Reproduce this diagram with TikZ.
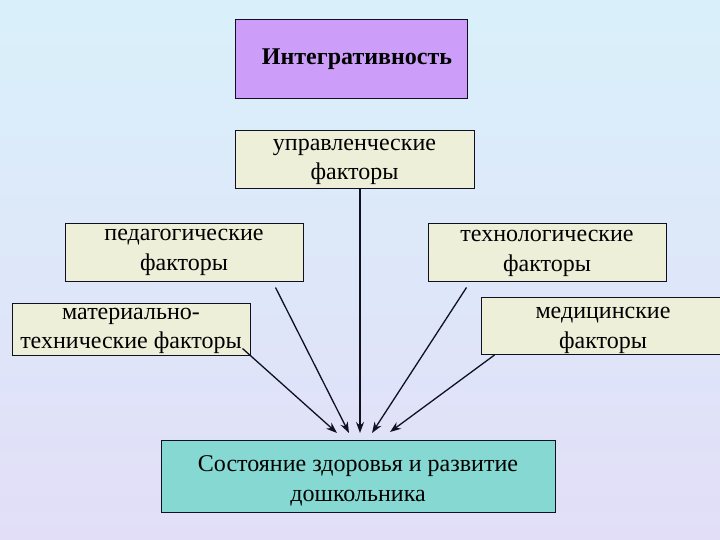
\documentclass[tikz,border=0pt]{standalone}
\usepackage{fontspec}
\setmainfont{Liberation Serif}
\usetikzlibrary{arrows.meta}
\definecolor{bgtop}{HTML}{D9F0FA}
\definecolor{bgbot}{HTML}{E2DEF8}
\definecolor{lilac}{HTML}{CC9EFA}
\definecolor{beige}{HTML}{EDEFD9}
\definecolor{teal}{HTML}{86D8D2}
\definecolor{edge}{HTML}{101020}
\tikzset{
  box/.style={draw=edge, line width=1pt, inner sep=0pt},
  factor/.style={box, fill=beige},
  txt/.style={align=center, inner sep=0pt, font=\fontsize{24}{29.5}\selectfont},
  link/.style={draw=edge, line width=1.3pt, -{Stealth[length=11pt,width=8pt]}}
}
\begin{document}
\begin{tikzpicture}[x=1pt,y=-1pt]
\useasboundingbox (0,0) rectangle (720,540);
\shade[top color=bgtop, bottom color=bgbot] (0,0) rectangle (720,540);
\begin{scope}
\clip (0,0) rectangle (720,540);
\node[box, fill=lilac, minimum width=232pt, minimum height=79pt] (integ) at (351,59.5) {};
\node[factor, minimum width=239pt, minimum height=58pt] (upr) at (354.5,160) {};
\node[factor, minimum width=238pt, minimum height=57pt] (ped) at (184,252.5) {};
\node[factor, minimum width=238pt, minimum height=57pt] (tech) at (547,252.5) {};
\node[factor, minimum width=238pt, minimum height=52pt] (mat) at (131,329) {};
\node[factor, minimum width=244pt, minimum height=57pt] (med) at (603,326) {};
\node[box, fill=teal, minimum width=394pt, minimum height=72pt] (out) at (358,476) {};
\end{scope}
\node[txt, font=\fontsize{24}{29}\selectfont\bfseries] (integ-t) at ([xshift=6pt]integ.center) {Интегративность};
\node[txt] (upr-t) at ([yshift=-2pt]upr.center) {управленческие\\факторы};
\node[txt] (ped-t) at (ped.center) {педагогические\\факторы};
\node[txt] (tech-t) at ([yshift=-1pt]tech.center) {технологические\\факторы};
\node[txt] (mat-t) at ([yshift=-2pt]mat.center) {материально-\\технические факторы};
\node[txt] (med-t) at ([yshift=-4.5pt]med.center) {медицинские\\факторы};
\node[txt] (out-t) at ([yshift=-5pt]out.center) {Состояние здоровья и развитие\\дошкольника};
\coordinate (t1) at (337,433);
\coordinate (t2) at (349,433);
\coordinate (t3) at (360,433);
\coordinate (t4) at (372,433);
\coordinate (t5) at (390,432);
\draw[link] (mat.south east) ++(-8pt,7pt) coordinate (s1) -- (t1);
\draw[link] (ped.south east) ++(-28pt,-6pt) coordinate (s2) -- (t2);
\draw[link] (upr.south) ++(5.5pt,0) coordinate (s3) -- (t3);
\draw[link] (tech.south west) ++(39pt,-6pt) coordinate (s4) -- (t4);
\draw[link] (med.south west) ++(14pt,0) coordinate (s5) -- (t5);
\end{tikzpicture}
\end{document}
